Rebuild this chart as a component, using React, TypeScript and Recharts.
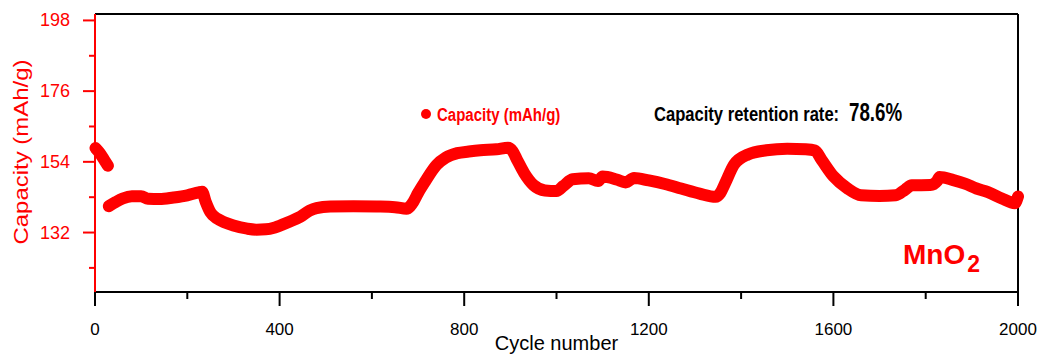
import React from "react";
import {
  ComposedChart,
  Line,
  XAxis,
  YAxis,
  ReferenceLine,
  Legend,
} from "recharts";

// cycle numbers; the null entry splits the first short run
const cycles = [
  1, 10, 20, 28, 29.5,
  30, 45, 60, 80, 100, 115, 140, 170, 200, 225, 232, 240, 250, 265, 280, 300,
  330, 350, 370, 390, 420, 445, 465, 480, 510, 560, 610, 650, 675, 690, 700,
  715, 740, 760, 785, 810, 835, 870, 895, 905, 915, 930, 950, 975, 1000, 1015,
  1035, 1070, 1090, 1100, 1130, 1150, 1168, 1200, 1235, 1270, 1310, 1345, 1355,
  1365, 1385, 1415, 1455, 1500, 1540, 1560, 1575, 1600, 1630, 1660, 1700, 1735,
  1755, 1770, 1810, 1825, 1830, 1860, 1885, 1910, 1935, 1965, 1993, 2000,
];

const capacity: (number | null)[] = [
  158.3, 156.8, 154.6, 152.8, null,
  140.2, 141.5, 142.6, 143.3, 143.3, 142.5, 142.4, 142.9, 143.6, 144.5, 144.7,
  141.5, 138.3, 136.3, 135.2, 134.2, 133.2, 132.9, 133.0, 133.6, 135.3, 136.9,
  138.8, 139.6, 140.1, 140.2, 140.1, 139.9, 139.4, 141.6, 144.3, 147.8, 153.0,
  155.3, 156.7, 157.2, 157.6, 157.9, 158.4, 157.3, 154.5, 150.5, 146.8, 145.1,
  144.9, 146.5, 148.6, 148.9, 148.0, 149.4, 148.5, 147.6, 149.0, 148.2, 147.1,
  145.7, 144.1, 143.1, 144.3, 147.2, 153.2, 156.3, 157.6, 158.1, 157.9, 157.5,
  154.5, 149.5, 145.8, 143.6, 143.4, 143.6, 145.3, 146.7, 146.8, 148.1, 149.3,
  148.3, 147.2, 145.7, 144.6, 142.6, 141.1, 143.2,
];

const xTicks = [0, 200, 400, 600, 800, 1000, 1200, 1400, 1600, 1800, 2000];
const xLabelTicks = [0, 400, 800, 1200, 1600, 2000];
const yTicks = [121, 132, 143, 154, 165, 176, 187, 198];
const yLabelTicks = [132, 154, 176, 198];

const data = cycles.map((c, i) => ({ cycle: c, cap: capacity[i] }));

const RED = "#ff0000";
const SANS = "'Liberation Sans', Arial, sans-serif";

const XTick = (props: any) => {
  const { x, y, payload } = props;
  const major = xLabelTicks.includes(payload.value);
  return (
    <g>
      <line x1={x} x2={x} y1={y} y2={y + (major ? 14 : 7)} stroke="#000" strokeWidth={2} />
      {major && (
        <text x={x} y={y + 43} textAnchor="middle" fontSize={17} fill="#000" fontFamily={SANS}>
          {payload.value}
        </text>
      )}
    </g>
  );
};

const YTick = (props: any) => {
  const { x, y, payload } = props;
  const major = yLabelTicks.includes(payload.value);
  return (
    <g>
      <line x1={x - (major ? 12 : 6)} x2={x} y1={y} y2={y} stroke={RED} strokeWidth={2} />
      {major && (
        <text x={x - 25} y={y + 6} textAnchor="end" fontSize={18} fill={RED} fontFamily={SANS}>
          {payload.value}
        </text>
      )}
    </g>
  );
};

// bold text squeezed horizontally, like the narrow face in the original figure
const Squeezed = ({ x, y, sx, size, fill, children }: any) => (
  <g transform={`translate(${x},${y}) scale(${sx},1)`}>
    <text x={0} y={0} fontSize={size} fontWeight="bold" fill={fill} fontFamily={SANS}>
      {children}
    </text>
  </g>
);

const LegendContent = () => (
  <svg width={200} height={24} style={{ overflow: "visible" }}>
    <circle cx={8} cy={10} r={5} fill={RED} />
    <Squeezed x={19} y={17} sx={0.79} size={19} fill={RED}>
      Capacity (mAh/g)
    </Squeezed>
  </svg>
);

export default function App() {
  return (
    <div style={{ position: "absolute", left: 0, top: 0, background: "#fff" }}>
      <ComposedChart
        width={1041}
        height={356}
        data={data}
        margin={{ top: 14, right: 23, bottom: 0, left: 0 }}
      >
        <XAxis
          dataKey="cycle"
          type="number"
          domain={[0, 2000]}
          ticks={xTicks}
          interval={0}
          height={64}
          tickSize={0}
          tickMargin={0}
          tickLine={false}
          tick={<XTick />}
          axisLine={{ stroke: "#000", strokeWidth: 2 }}
          label={{
            value: "Cycle number",
            position: "insideBottom",
            offset: 6,
            fontSize: 20,
            fill: "#000",
            fontFamily: SANS,
          }}
        />
        <YAxis
          type="number"
          domain={[113.5, 200]}
          allowDataOverflow
          ticks={yTicks}
          interval={0}
          width={95}
          tickSize={0}
          tickMargin={0}
          tickLine={false}
          tick={<YTick />}
          axisLine={{ stroke: RED, strokeWidth: 2 }}
        />
        <ReferenceLine y={200} stroke="#000" strokeWidth={2} />
        <ReferenceLine x={2000} stroke="#000" strokeWidth={2} />
        <Legend
          layout="horizontal"
          verticalAlign="middle"
          align="center"
          content={<LegendContent />}
          wrapperStyle={{ position: "absolute", left: 418, top: 104, width: 200, height: 24 }}
        />
        <Line
          dataKey="cap"
          name="Capacity (mAh/g)"
          type="monotone"
          stroke={RED}
          strokeWidth={12}
          strokeLinecap="round"
          strokeLinejoin="round"
          dot={false}
          activeDot={false}
          connectNulls={false}
          isAnimationActive={false}
        />
      </ComposedChart>
      <svg
        width={1041}
        height={356}
        style={{ position: "absolute", left: 0, top: 0, pointerEvents: "none" }}
      >
        <text x={28} y={152} transform="rotate(-90, 28, 152)" textAnchor="middle" fontSize={20}
          fill={RED} fontFamily={SANS} textLength={185} lengthAdjust="spacingAndGlyphs">
          Capacity (mAh/g)
        </text>
        <Squeezed x={654} y={121} sx={0.79} size={21} fill="#000">
          Capacity retention rate:
        </Squeezed>
        <Squeezed x={849} y={121} sx={0.75} size={25} fill="#000">
          78.6%
        </Squeezed>
        <text x={903} y={264} fontSize={28} fontWeight="bold" fill={RED} fontFamily={SANS}>
          MnO
          <tspan dx={2} dy={8} fontSize={23}>2</tspan>
        </text>
      </svg>
    </div>
  );
}
